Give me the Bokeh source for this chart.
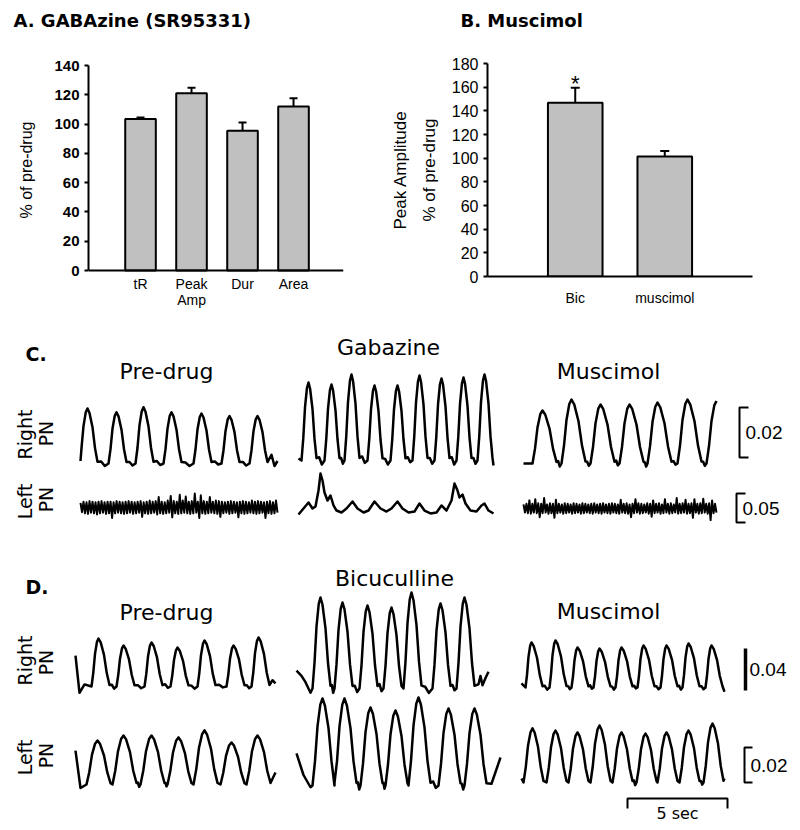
import numpy as np
from bokeh.plotting import figure
from bokeh.models import Range1d, FixedTicker, Whisker, TeeHead, ColumnDataSource, Span
from bokeh.layouts import column, row
from bokeh.embed import file_html
from bokeh.resources import INLINE
from bokeh.core.properties import value

# ------------------------------------------------------------------ data
# Panel A: GABAzine, % of pre-drug
A_TITLE = "A.  GABAzine (SR95331)"
A_LABELS = ["tR", "Peak\nAmp", "Dur", "Area"]
A_MEAN = [103.5, 121.0, 95.5, 112.0]
A_SEM = [1.0, 3.8, 5.5, 5.7]
A_YTICKS = [0, 20, 40, 60, 80, 100, 120, 140]

# Panel B: Muscimol, peak amplitude % of pre-drug
B_TITLE = "B.  Muscimol"
B_LABELS = ["Bic", "muscimol"]
B_MEAN = [146.8, 101.4]
B_SEM = [12.7, 4.6]
B_SIG = ["*", ""]
B_YTICKS = [0, 20, 40, 60, 80, 100, 120, 140, 160, 180]

# Panel C/D traces: burst peak times (s from trace start) and amplitudes (signal units)
C_RIGHT_PRE_T = [0.35, 1.8, 3.15, 4.55, 6.05, 7.45, 8.85]
C_RIGHT_PRE_A = [0.022, 0.0205, 0.0225, 0.0205, 0.020, 0.019, 0.019]
C_RIGHT_GAB_T = [0.5, 1.65, 2.65, 3.8, 4.95, 6.05, 7.15, 8.25, 9.3]
C_RIGHT_GAB_A = [0.0312, 0.0304, 0.0344, 0.030, 0.030, 0.034, 0.0328, 0.0332, 0.0344]
C_RIGHT_MUS_T = [0.95, 2.4, 3.85, 5.3, 6.7, 8.2, 9.65]
C_RIGHT_MUS_A = [0.0212, 0.0256, 0.0236, 0.0236, 0.0244, 0.0256, 0.025]

# left PN, panel C: noisy recordings, upper / lower excursions (x 0.001 signal units)
C_LEFT_PRE_UP = [8, 10, 9, 11, 10, 9, 10, 11, 9, 10, 10, 9, 11, 10, 9, 10, 11, 10, 9, 10,
                 11, 9, 10, 12, 10, 11, 18, 10, 9, 12, 20, 11, 10, 22, 12, 19, 10, 11, 24, 10,
                 21, 11, 10, 18, 10, 12, 11, 10, 9, 10, 11, 10, 9, 10, 11, 10, 9, 12, 10, 11,
                 10, 9, 10, 11, 9, 12]
C_LEFT_PRE_LO = [-8, -10, -11, -9, -10, -12, -10, -9, -11, -10, -18, -10, -9, -10, -11, -10, -9, -11, -10, -9,
                 -16, -10, -11, -10, -9, -12, -10, -11, -10, -9, -17, -10, -11, -10, -9, -10, -11, -10, -9, -18,
                 -10, -11, -10, -9, -10, -11, -16, -10, -9, -11, -10, -9, -17, -10, -11, -10, -9, -10, -11, -10,
                 -9, -18, -10, -11, -10, -9]
C_LEFT_MUS_UP = [7, 8, 14, 8, 16, 9, 8, 18, 7, 9, 8, 15, 8, 7, 9, 8, 7, 9, 8, 7,
                 9, 8, 7, 8, 9, 7, 8, 9, 7, 8, 9, 8, 7, 15, 8, 9, 7, 8, 16, 9,
                 8, 7, 9, 8, 14, 8, 9, 7, 16, 8, 9, 7, 18, 8, 9, 15, 8, 9, 16, 8,
                 9, 17, 8, 9, 14, 8]
C_LEFT_MUS_LO = [-7, -8, -9, -7, -8, -15, -8, -7, -9, -8, -16, -8, -7, -9, -8, -7, -9, -8, -7, -9,
                 -8, -7, -8, -9, -7, -8, -9, -7, -8, -9, -7, -8, -9, -7, -8, -9, -15, -8, -7, -9,
                 -8, -7, -9, -14, -8, -7, -9, -8, -7, -9, -8, -7, -9, -8, -7, -9, -8, -16, -7, -9,
                 -8, -7, -9, -20, -8, -7]
C_LEFT_GAB_T = [0, 0.25, 0.5, 0.7, 0.85, 1.0, 1.1, 1.2, 1.3, 1.45, 1.6, 1.75, 1.9, 2.15, 2.4,
                2.7, 2.95, 3.25, 3.5, 3.8, 4.1, 4.4, 4.65, 4.95, 5.2, 5.5, 5.8, 6.05, 6.3, 6.6,
                6.9, 7.15, 7.4, 7.65, 7.8, 7.95, 8.05, 8.2, 8.35, 8.6, 8.9, 9.15, 9.3, 9.5, 9.75]
C_LEFT_GAB_V = [-0.0034, 0.0069, 0.0172, 0.0069, 0.0103, 0.0379, 0.0672, 0.0552, 0.0345, 0.0207,
                0.0293, 0.0121, 0.0034, 0.0, 0.0069, 0.019, 0.0069, 0.0, 0.0034, 0.019,
                0.0069, 0.0017, 0.0069, 0.019, 0.0069, 0.0, 0.0017, 0.0155, 0.0034, -0.0017,
                0.0, 0.0121, 0.0034, 0.0207, 0.05, 0.0379, 0.0259, 0.031, 0.0155, 0.0034,
                0.0017, 0.0121, 0.0155, 0.0034, -0.0017]

D_RIGHT_PRE_T = [1.15, 2.4, 3.8, 5.1, 6.45, 7.9, 9.15]
D_RIGHT_PRE_A = [0.0457, 0.039, 0.0419, 0.0371, 0.0438, 0.039, 0.0467]
D_RIGHT_BIC_T = [1.2, 2.3, 3.55, 4.75, 5.75, 7.2, 8.4]
D_RIGHT_BIC_A = [0.0867, 0.0819, 0.079, 0.0771, 0.0914, 0.081, 0.0867]
D_RIGHT_MUS_T = [0.5, 1.7, 2.8, 3.9, 5.0, 6.1, 7.25, 8.35, 9.5]
D_RIGHT_MUS_A = [0.0429, 0.0448, 0.0381, 0.0371, 0.0381, 0.04, 0.04, 0.0419, 0.04]
D_LEFT_PRE_T = [1.1, 2.4, 3.8, 5.15, 6.45, 7.8, 9.1]
D_LEFT_PRE_A = [0.0251, 0.028, 0.028, 0.0269, 0.0309, 0.024, 0.028]
D_LEFT_BIC_T = [1.3, 2.4, 3.7, 4.95, 6.1, 7.6, 8.9]
D_LEFT_BIC_A = [0.0497, 0.0497, 0.0446, 0.0429, 0.0503, 0.044, 0.044]
D_LEFT_MUS_T = [0.55, 1.7, 2.8, 3.9, 5.0, 6.2, 7.25, 8.35, 9.55]
D_LEFT_MUS_A = [0.0309, 0.0297, 0.0286, 0.0326, 0.0286, 0.028, 0.0286, 0.0297, 0.0337]

# calibration bars
SCALE_VALUES = {"C_right": 0.02, "C_left": 0.05, "D_right": 0.04, "D_left": 0.02}
TIME_BAR_S = 5

C_TITLES = ["Pre-drug", "Gabazine", "Muscimol"]
D_TITLES = ["Pre-drug", "Bicuculline", "Muscimol"]

# ------------------------------------------------------------------ styling / layout
BAR_FILL = "#c0c0c0"
TICK_FONT = "Liberation Sans"
TITLE_FONT = "DejaVu Sans"
TRACE_W = 2.5

# burst waveform template (fraction of rise/fall time, fraction of amplitude)
SHAPE_T = [-1.0, -0.75, -0.5, -0.22, 0.0, 0.2, 0.5, 0.75, 1.0]
SHAPE_V = [0.0, 0.28, 0.68, 0.93, 1.0, 0.92, 0.66, 0.28, 0.03]
WIGGLE = [0.04, -0.05, 0.03, -0.04, 0.05, -0.03, 0.02, -0.05, 0.04, -0.02, 0.03, -0.04]


def blank_fig(w, h):
    p = figure(width=w, height=h, output_backend="svg", toolbar_location=None,
               x_range=Range1d(0, w), y_range=Range1d(0, h),
               x_axis_location=None, y_axis_location=None, min_border=0)
    p.xgrid.grid_line_color = None
    p.ygrid.grid_line_color = None
    p.outline_line_color = None
    return p


def style_bar_fig(p):
    p.xgrid.grid_line_color = None
    p.ygrid.grid_line_color = None
    p.outline_line_color = None
    for ax in (p.xaxis, p.yaxis):
        ax.axis_line_width = 2
        ax.axis_line_color = "black"
        ax.minor_tick_line_color = None
    p.xaxis.major_tick_line_color = None
    p.xaxis.major_label_text_font = TICK_FONT
    p.xaxis.major_label_text_font_size = "14px"
    p.xaxis.major_label_text_color = "black"
    p.xaxis.major_label_text_line_height = 1.05
    p.yaxis.major_tick_line_width = 2
    p.yaxis.major_tick_out = 4
    p.yaxis.major_tick_in = 0
    p.yaxis.major_label_standoff = 5
    p.yaxis.major_label_text_font = TICK_FONT
    p.yaxis.major_label_text_font_size = "16px"
    p.yaxis.major_label_text_color = "black"
    p.yaxis.axis_label_text_font = TICK_FONT
    p.yaxis.axis_label_text_font_style = "normal"
    p.yaxis.axis_label_text_color = "black"


# ---------------- title strip for panels A and B
ph = blank_fig(800, 36)
ph.text(x=[13, 460], y=[16, 16], text=[A_TITLE, B_TITLE], text_align="left", text_baseline="middle",
        text_font=value(TITLE_FONT), text_font_style="bold", text_font_size="18px", text_color="black")

# ---------------- Panel A  (frames of A and B share top/bottom)
ROW_H = 284
TOP_B, BOT_B = 27, 44
A_PX_PER_UNIT = 205 / 140
pa = figure(width=388, height=ROW_H, output_backend="svg", toolbar_location=None,
            x_range=Range1d(-0.02, 4.98),
            y_range=Range1d(-6 / A_PX_PER_UNIT, 140 + 2 / A_PX_PER_UNIT),
            min_border_left=88, min_border_right=45, min_border_top=TOP_B, min_border_bottom=BOT_B)
xa = list(range(1, len(A_LABELS) + 1))
pa.vbar(x=xa, top=A_MEAN, bottom=0, width=0.6, fill_color=BAR_FILL, line_color="black", line_width=2)
srca = ColumnDataSource(dict(x=xa, lo=A_MEAN, hi=[m + s for m, s in zip(A_MEAN, A_SEM)]))
pa.add_layout(Whisker(source=srca, base="x", lower="lo", upper="hi", line_width=2,
                      line_color="black", upper_head=TeeHead(size=8, line_width=2), lower_head=None))
style_bar_fig(pa)
pa.add_layout(Span(location=0, dimension="width", line_color="black", line_width=2))
pa.xaxis.axis_line_color = None
pa.xaxis.ticker = FixedTicker(ticks=xa)
pa.xaxis.major_label_overrides = {x: lab for x, lab in zip(xa, A_LABELS)}
pa.xaxis.major_label_standoff = -7
pa.yaxis.bounds = (0, 140)
pa.yaxis.ticker = FixedTicker(ticks=A_YTICKS)
pa.yaxis.major_label_text_font_style = "bold"
pa.yaxis.major_label_text_font_size = "15px"
pa.yaxis.axis_label = "% of pre-drug"
pa.yaxis.axis_label_text_font_size = "16px"
pa.yaxis.axis_label_standoff = 16

# ---------------- Panel B
pb = figure(width=412, height=ROW_H, output_backend="svg", toolbar_location=None,
            x_range=Range1d(0.02, 2.98), y_range=Range1d(0, 180),
            min_border_left=98, min_border_right=48, min_border_top=TOP_B, min_border_bottom=BOT_B)
xb = list(range(1, len(B_LABELS) + 1))
pb.vbar(x=xb, top=B_MEAN, width=0.61, fill_color=BAR_FILL, line_color="black", line_width=2)
hib = [m + s for m, s in zip(B_MEAN, B_SEM)]
srcb = ColumnDataSource(dict(x=xb, lo=B_MEAN, hi=hib, sig=B_SIG))
pb.add_layout(Whisker(source=srcb, base="x", lower="lo", upper="hi", line_width=2,
                      line_color="black", upper_head=TeeHead(size=9, line_width=2), lower_head=None))
pb.text(x="x", y="hi", text="sig", source=srcb, text_align="center", text_baseline="alphabetic",
        y_offset=-4, text_font=value(TICK_FONT), text_font_size="22px", text_color="black")
style_bar_fig(pb)
pb.yaxis.ticker = FixedTicker(ticks=B_YTICKS)
pb.xaxis.ticker = FixedTicker(ticks=xb)
pb.xaxis.major_label_overrides = {x: lab for x, lab in zip(xb, B_LABELS)}
pb.xaxis.major_label_standoff = 7
pb.yaxis.axis_label = "Peak Amplitude\n% of pre-drug"
pb.yaxis.axis_label_text_font_size = "17px"
pb.yaxis.axis_label_text_line_height = 1.5
pb.yaxis.axis_label_standoff = 10

# ---------------- Panels C / D : traces
PX_PER_S = 20.0
TR_H = 510
X_START = {"C": [4.0, 14.9, 26.15], "D": [3.75, 14.8, 26.05]}
BASELINE = {"C_right": [367, 370, 367], "C_left": [323, 318, 322],
            "D_right": [144, 142, 143], "D_left": [46, 45, 48]}
SCALE_PX = {"C_right": 50, "C_left": 29, "D_right": 42, "D_left": 35}
GAIN = {k: SCALE_PX[k] / SCALE_VALUES[k] for k in SCALE_VALUES}

pt = figure(width=800, height=TR_H, output_backend="svg", toolbar_location=None,
            x_range=Range1d(0, 800 / PX_PER_S), y_range=Range1d(0, TR_H),
            x_axis_location=None, y_axis_location=None, min_border=0)
pt.xgrid.grid_line_color = None
pt.ygrid.grid_line_color = None
pt.outline_line_color = None


def build_burst(dur, pk_t, pk_a, rise, fall, start_v, end_v, extra=()):
    pts = list(extra)
    amp = sum(pk_a) / len(pk_a)
    k = 0
    prev_end = None
    for t, a in zip(pk_t, pk_a):
        if prev_end is not None:
            g0, g1 = prev_end, t - rise
            if g1 - g0 > 0.15:
                for f in (1 / 3, 2 / 3):
                    pts.append((g0 + f * (g1 - g0), WIGGLE[k % len(WIGGLE)] * amp))
                    k += 1
        for st, sv in zip(SHAPE_T, SHAPE_V):
            dt = st * rise if st < 0 else st * fall
            pts.append((t + dt, sv * a))
        prev_end = t + fall
    pts = sorted(p for p in pts if 0 < p[0] < dur)
    pts = [(0.0, start_v)] + pts + [(dur, end_v)]
    return np.array([p[0] for p in pts]), np.array([p[1] for p in pts])


def noise_trace(dur, up, lo):
    v = []
    for a, b in zip(up, lo):
        v += [a * 0.001, b * 0.001]
    return np.linspace(0, dur, len(v)), np.array(v)


def draw(row_key, panel, idx, t, v, lw=TRACE_W):
    x = X_START[panel][idx] + np.asarray(t)
    y = BASELINE[row_key][idx] + np.asarray(v) * GAIN[row_key]
    pt.line(x, y, line_color="black", line_width=lw, line_join="round")


# C right
draw("C_right", "C", 0, *build_burst(9.85, C_RIGHT_PRE_T, C_RIGHT_PRE_A, 0.4, 0.5, 0.001, 0.001,
                                     [(9.55, 0.0035), (9.7, -0.001)]))
draw("C_right", "C", 1, *build_burst(9.75, C_RIGHT_GAB_T, C_RIGHT_GAB_A, 0.35, 0.4, 0.0008, -0.002))
draw("C_right", "C", 2, *build_burst(9.65, C_RIGHT_MUS_T, C_RIGHT_MUS_A, 0.5, 0.7, 0.0, 0.025))
# C left
draw("C_left", "C", 0, *noise_trace(9.85, C_LEFT_PRE_UP, C_LEFT_PRE_LO), lw=2.0)
draw("C_left", "C", 1, C_LEFT_GAB_T, C_LEFT_GAB_V)
draw("C_left", "C", 2, *noise_trace(9.65, C_LEFT_MUS_UP, C_LEFT_MUS_LO), lw=2.0)
# D right
draw("D_right", "D", 0, *build_burst(10.0, D_RIGHT_PRE_T, D_RIGHT_PRE_A, 0.35, 0.55, 0.0295, 0.003,
                                     [(0.2, -0.006), (0.45, 0.002), (9.85, 0.006)]))
draw("D_right", "D", 1, *build_burst(9.6, D_RIGHT_BIC_T, D_RIGHT_BIC_A, 0.4, 0.5, 0.017, 0.016,
                                     [(0.25, 0.012), (0.45, 0.006), (0.7, -0.004),
                                      (9.1, 0.004), (9.2, 0.012), (9.3, 0.003), (9.45, 0.01)]))
draw("D_right", "D", 2, *build_burst(10.15, D_RIGHT_MUS_T, D_RIGHT_MUS_A, 0.3, 0.55, 0.004, -0.004))
# D left
draw("D_left", "D", 0, *build_burst(10.0, D_LEFT_PRE_T, D_LEFT_PRE_A, 0.55, 0.65, 0.0194, 0.0069,
                                    [(0.25, -0.002)]))
draw("D_left", "D", 1, *build_burst(10.2, D_LEFT_BIC_T, D_LEFT_BIC_A, 0.5, 0.6, 0.0183, 0.016,
                                    [(0.35, 0.006), (0.7, -0.001), (9.75, 0.001)]))
draw("D_left", "D", 2, *build_burst(10.15, D_LEFT_MUS_T, D_LEFT_MUS_A, 0.45, 0.55, 0.0023, 0.0023))

# calibration bars
CAL_X = {"C_right": 36.95, "C_left": 36.8, "D_right": 37.25, "D_left": 37.2}
CAL_Y0 = {"C_right": 373, "C_left": 308, "D_right": 140, "D_left": 48}
CAL_TICK = {"C_right": 0.45, "C_left": 0.45, "D_right": 0.0, "D_left": 0.4}
for k in SCALE_VALUES:
    x0, y0 = CAL_X[k], CAL_Y0[k]
    y1 = y0 + SCALE_VALUES[k] * GAIN[k]
    tk = CAL_TICK[k]
    if tk > 0:
        pt.line([x0 + tk, x0, x0, x0 + tk], [y0, y0, y1, y1], line_color="black", line_width=2)
        tx = x0 + 0.3
    else:
        pt.line([x0, x0], [y0, y1], line_color="black", line_width=3.5)
        tx = x0 + 0.2
    pt.text(x=[tx], y=[(y0 + y1) / 2], text=[f"{SCALE_VALUES[k]:.2f}"], text_align="left",
            text_baseline="middle", text_font=value(TICK_FONT), text_font_size="19px",
            text_color="black")

tb0 = 31.35
pt.line([tb0, tb0, tb0 + TIME_BAR_S, tb0 + TIME_BAR_S], [22, 32, 32, 22], line_color="black", line_width=2)
pt.text(x=[tb0 + TIME_BAR_S / 2], y=[17], text=[f"{TIME_BAR_S} sec"], text_align="center",
        text_baseline="middle", text_font=value(TITLE_FONT), text_font_size="16px", text_color="black")

# condition titles
TITLE_X = {"C": [8.3, 19.4, 30.4], "D": [8.3, 19.7, 30.4]}
TITLE_Y = {"C": [459, 483, 459], "D": [218, 252, 219]}
for panel, titles in (("C", C_TITLES), ("D", D_TITLES)):
    pt.text(x=TITLE_X[panel], y=TITLE_Y[panel], text=titles, text_align="center",
            text_baseline="middle", text_font=value(TITLE_FONT), text_font_size="22px",
            text_color="black")

# panel letters
pt.text(x=[1.25, 1.25], y=[477, 244], text=["C.", "D."], text_align="left", text_baseline="middle",
        text_font=value(TITLE_FONT), text_font_style="bold", text_font_size="19px", text_color="black")

# side labels
SIDE_TEXT = ["Right", "PN", "Left", "PN", "Right", "PN", "Left", "PN"]
SIDE_X = [1.2, 2.25, 1.2, 2.25, 1.2, 2.25, 1.2, 2.25]
SIDE_Y = [396, 397, 329, 331, 170, 168, 73, 75]
pt.text(x=SIDE_X, y=SIDE_Y, text=SIDE_TEXT, angle=np.pi / 2, text_align="center",
        text_baseline="middle", text_font=value(TITLE_FONT), text_font_size="19px", text_color="black")

layout = column(ph, row(pa, pb), pt)
open("out.html", "w").write(file_html(layout, INLINE))
